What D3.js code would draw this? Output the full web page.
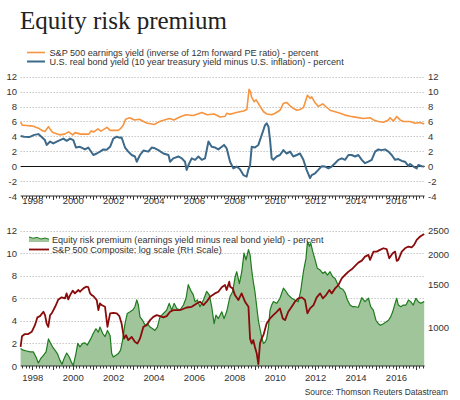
<!DOCTYPE html>
<html>
<head>
<meta charset="utf-8">
<script src="https://cdn.jsdelivr.net/npm/d3@7"></script>
<style>
  html, body { margin: 0; padding: 0; background: #fff; }
  svg { display: block; }
  text { font-family: "Liberation Sans", Arial, sans-serif; fill: #333; }
</style>
</head>
<body>
<svg id="chart" width="460" height="400"></svg>
<script>
// ---------------- DATA (fractional year, value) ----------------
const earningsYield = [
[1997.42,5.9],[1997.5,5.5],[1997.7,5.45],[1997.9,5.4],[1998.05,5.35],[1998.3,5.1],[1998.5,4.75],[1998.62,4.65],
[1998.8,5.3],[1998.9,4.9],[1999.0,4.55],[1999.2,4.35],[1999.35,4.2],[1999.6,4.3],[1999.8,4.6],[2000.0,4.2],
[2000.12,4.5],[2000.4,4.3],[2000.8,4.3],[2000.9,4.7],[2001.05,4.6],[2001.25,5.0],[2001.4,4.7],[2001.7,5.2],
[2001.85,4.8],[2002.0,4.8],[2002.25,4.8],[2002.35,5.0],[2002.5,5.5],[2002.62,6.3],[2002.82,6.5],[2003.05,6.2],
[2003.3,6.3],[2003.65,5.8],[2004.05,5.6],[2004.3,6.0],[2004.65,6.3],[2004.8,6.4],[2005.0,6.2],[2005.3,6.6],
[2005.6,6.9],[2005.97,6.8],[2006.4,7.2],[2006.65,6.9],[2007.0,7.0],[2007.3,6.6],[2007.55,6.7],[2007.62,7.1],
[2007.79,6.95],[2008.1,7.2],[2008.45,7.4],[2008.62,7.6],[2008.73,10.3],[2008.8,10.0],[2008.85,9.3],[2008.98,8.65],
[2009.08,8.9],[2009.28,8.0],[2009.45,7.3],[2009.6,7.0],[2009.85,6.9],[2010.02,7.1],[2010.26,7.5],[2010.42,8.4],
[2010.59,8.55],[2010.76,8.1],[2010.92,7.75],[2011.09,7.5],[2011.25,7.6],[2011.42,7.85],[2011.62,9.5],[2011.75,9.1],
[2011.83,9.3],[2012.0,8.5],[2012.16,8.0],[2012.38,8.35],[2012.57,7.9],[2012.74,7.5],[2012.99,7.3],[2013.24,7.1],
[2013.48,6.85],[2013.73,6.7],[2014.06,6.55],[2014.39,6.4],[2014.72,6.5],[2014.89,6.2],[2015.13,6.0],[2015.38,5.9],
[2015.63,6.2],[2015.71,6.5],[2015.88,6.05],[2016.04,6.65],[2016.21,6.2],[2016.37,6.0],[2016.7,6.0],[2016.95,5.75],
[2017.2,5.85],[2017.4,5.65]
];
const realBondYield = [
[1997.42,4.05],[1997.6,3.95],[1997.85,3.9],[1998.1,4.2],[1998.3,4.3],[1998.45,3.95],[1998.62,3.5],[1998.71,2.85],
[1998.88,3.3],[1999.04,3.05],[1999.21,3.3],[1999.37,3.5],[1999.54,3.7],[1999.7,3.4],[1999.87,3.7],[2000.03,3.5],
[2000.16,2.5],[2000.36,2.6],[2000.61,2.25],[2000.77,2.5],[2001.02,1.5],[2001.19,1.7],[2001.35,1.95],[2001.52,2.25],
[2001.68,2.2],[2001.85,2.6],[2002.01,3.7],[2002.18,3.95],[2002.34,3.8],[2002.42,3.85],[2002.59,2.5],[2002.75,1.95],
[2002.92,1.5],[2003.08,1.3],[2003.17,0.6],[2003.33,1.5],[2003.5,2.1],[2003.74,1.95],[2003.91,2.5],[2004.07,2.4],
[2004.24,2.15],[2004.49,1.7],[2004.74,1.5],[2004.82,0.6],[2004.98,1.05],[2005.23,1.3],[2005.4,1.05],[2005.56,0.6],
[2005.64,-0.5],[2005.73,0.15],[2005.89,1.05],[2006.06,0.85],[2006.22,1.3],[2006.39,0.85],[2006.55,1.05],[2006.72,3.3],
[2006.88,2.6],[2007.05,2.5],[2007.21,2.25],[2007.38,2.6],[2007.49,2.85],[2007.62,2.4],[2007.79,0.6],[2007.95,-0.3],
[2008.12,-0.05],[2008.28,-0.4],[2008.45,-1.2],[2008.61,-1.4],[2008.69,-0.5],[2008.78,0.15],[2008.86,2.6],[2009.02,2.5],
[2009.19,2.85],[2009.27,3.5],[2009.44,4.85],[2009.52,5.5],[2009.6,5.75],[2009.69,5.3],[2009.77,3.5],[2009.85,1.05],
[2009.93,0.85],[2010.1,1.3],[2010.26,1.5],[2010.43,2.15],[2010.59,1.7],[2010.76,1.95],[2010.92,1.3],[2011.09,1.5],
[2011.25,1.7],[2011.42,0.85],[2011.58,-0.5],[2011.75,-1.6],[2011.83,-1.2],[2012.0,-0.95],[2012.16,-0.5],[2012.33,0.0],
[2012.49,-0.05],[2012.66,-0.3],[2012.82,-0.05],[2012.99,0.4],[2013.15,0.85],[2013.32,1.05],[2013.48,0.85],[2013.65,1.5],
[2013.81,1.5],[2013.98,1.3],[2014.14,1.5],[2014.31,0.85],[2014.47,0.4],[2014.64,0.6],[2014.8,0.85],[2014.97,1.95],
[2015.13,2.25],[2015.3,2.15],[2015.46,2.25],[2015.63,1.95],[2015.79,1.5],[2015.96,0.85],[2016.12,0.95],[2016.29,0.7],
[2016.45,0.6],[2016.62,0.0],[2016.7,0.3],[2016.87,-0.05],[2017.03,-0.3],[2017.11,0.15],[2017.28,0.0],[2017.4,-0.05]
];
const equityRiskPremium = [
[1997.42,1.55],[1997.55,1.4],[1997.72,1.33],[1997.9,1.25],[1998.05,1.25],[1998.18,0.8],[1998.3,0.27],[1998.41,0.65],
[1998.55,0.95],[1998.68,1.25],[1998.8,2.4],[1998.88,2.1],[1999.0,1.7],[1999.12,1.4],[1999.24,1.1],[1999.37,0.5],
[1999.47,0.15],[1999.57,0.65],[1999.7,1.15],[1999.83,0.8],[1999.95,0.27],[2000.03,0.05],[2000.16,1.1],[2000.25,2.0],
[2000.36,1.7],[2000.49,2.0],[2000.61,2.05],[2000.72,1.85],[2000.89,2.4],[2001.02,2.9],[2001.15,3.3],[2001.27,3.0],
[2001.35,3.45],[2001.48,2.9],[2001.6,2.6],[2001.72,3.15],[2001.85,2.7],[2001.93,1.1],[2002.01,0.8],[2002.14,0.95],
[2002.26,1.1],[2002.37,1.4],[2002.47,2.3],[2002.59,3.75],[2002.7,4.65],[2002.84,4.8],[2002.97,4.95],[2003.08,5.25],
[2003.17,5.85],[2003.25,5.4],[2003.33,4.35],[2003.46,4.05],[2003.58,3.6],[2003.7,3.75],[2003.83,3.45],[2003.96,3.3],
[2004.07,3.15],[2004.19,3.45],[2004.32,4.35],[2004.49,4.65],[2004.65,4.95],[2004.78,5.55],[2004.9,4.95],[2005.02,5.55],
[2005.15,5.1],[2005.31,4.95],[2005.48,5.4],[2005.61,6.0],[2005.72,7.2],[2005.84,6.7],[2005.97,6.3],[2006.05,5.7],
[2006.17,5.85],[2006.3,5.25],[2006.47,5.85],[2006.63,6.6],[2006.76,6.3],[2006.88,5.25],[2007.0,3.75],[2007.09,4.5],
[2007.21,4.2],[2007.38,4.8],[2007.49,4.2],[2007.62,4.8],[2007.75,5.85],[2007.79,6.15],[2007.92,6.6],[2008.04,7.9],
[2008.12,8.35],[2008.25,7.3],[2008.37,8.35],[2008.48,10.0],[2008.58,9.4],[2008.7,10.3],[2008.78,9.85],[2008.86,8.5],
[2008.94,7.45],[2009.02,6.6],[2009.11,5.25],[2009.19,4.05],[2009.27,3.3],[2009.35,2.6],[2009.44,2.0],[2009.52,2.1],
[2009.6,2.4],[2009.69,3.45],[2009.77,4.95],[2009.85,5.4],[2009.93,5.7],[2010.1,5.55],[2010.26,6.0],[2010.43,6.9],
[2010.56,6.6],[2010.67,6.3],[2010.84,6.0],[2011.0,5.85],[2011.17,5.7],[2011.29,6.7],[2011.42,8.35],[2011.55,9.55],
[2011.62,11.0],[2011.72,10.6],[2011.78,10.9],[2011.88,10.15],[2012.0,9.4],[2012.11,8.65],[2012.25,8.5],[2012.38,8.2],
[2012.49,8.35],[2012.61,8.05],[2012.74,8.35],[2012.87,7.9],[2012.99,7.75],[2013.1,7.3],[2013.24,6.9],[2013.37,6.8],
[2013.48,6.5],[2013.6,5.85],[2013.73,5.4],[2013.86,5.25],[2013.98,5.25],[2014.14,5.2],[2014.31,6.05],[2014.47,5.7],
[2014.64,6.0],[2014.75,5.25],[2014.88,4.95],[2015.01,4.05],[2015.13,3.75],[2015.24,3.6],[2015.38,3.75],[2015.51,3.9],
[2015.63,4.05],[2015.74,4.35],[2015.84,4.8],[2015.96,5.55],[2016.04,6.0],[2016.12,5.4],[2016.24,5.25],[2016.37,5.4],
[2016.5,5.4],[2016.62,5.85],[2016.73,5.7],[2016.86,5.4],[2016.99,6.0],[2017.11,5.7],[2017.23,5.55],[2017.4,5.7]
];
const sp500 = [
[1997.42,832],[1997.49,921],[1997.63,940],[1997.8,940],[1997.97,960],[1998.13,1022],[1998.25,1100],[1998.38,1113],
[1998.55,1160],[1998.63,1124],[1998.71,1038],[1998.79,1006],[1998.88,1124],[1998.96,1142],[1999.13,1216],[1999.29,1304],
[1999.45,1329],[1999.62,1317],[1999.7,1380],[1999.78,1304],[1999.87,1358],[2000.0,1416],[2000.11,1380],[2000.28,1425],
[2000.36,1402],[2000.53,1447],[2000.66,1470],[2000.77,1463],[2000.86,1380],[2000.94,1358],[2001.02,1346],[2001.19,1296],
[2001.27,1178],[2001.35,1255],[2001.43,1236],[2001.6,1216],[2001.72,1006],[2001.85,1142],[2002.01,1149],[2002.18,1142],
[2002.31,1113],[2002.42,1038],[2002.54,900],[2002.64,930],[2002.75,887],[2002.92,915],[2003.08,873],[2003.2,859],
[2003.33,900],[2003.5,1006],[2003.66,1022],[2003.83,1072],[2003.99,1106],[2004.16,1124],[2004.32,1113],[2004.49,1100],
[2004.65,1113],[2004.82,1160],[2004.98,1178],[2005.23,1178],[2005.4,1185],[2005.64,1208],[2005.89,1216],[2006.14,1255],
[2006.3,1276],[2006.47,1236],[2006.63,1276],[2006.8,1338],[2007.04,1380],[2007.21,1402],[2007.38,1463],[2007.54,1493],
[2007.62,1425],[2007.75,1541],[2007.79,1470],[2007.92,1447],[2008.03,1358],[2008.2,1296],[2008.36,1380],[2008.53,1276],
[2008.7,1216],[2008.78,900],[2008.86,859],[2008.94,887],[2009.02,832],[2009.11,782],[2009.19,707],[2009.27,859],
[2009.35,900],[2009.44,930],[2009.6,1038],[2009.77,1089],[2009.93,1124],[2010.1,1160],[2010.26,1197],[2010.4,1089],
[2010.51,1072],[2010.67,1160],[2010.84,1216],[2011.0,1276],[2011.17,1317],[2011.34,1329],[2011.5,1296],[2011.62,1142],
[2011.75,1197],[2011.92,1236],[2012.08,1329],[2012.25,1380],[2012.38,1317],[2012.54,1358],[2012.71,1425],[2012.82,1380],
[2012.99,1447],[2013.15,1493],[2013.32,1591],[2013.48,1642],[2013.65,1695],[2013.81,1733],[2013.98,1790],[2014.14,1846],
[2014.31,1881],[2014.47,1954],[2014.64,1985],[2014.72,1893],[2014.89,2048],[2015.05,2048],[2015.21,2081],[2015.38,2114],
[2015.54,2097],[2015.67,1923],[2015.84,2016],[2015.96,2048],[2016.04,1875],[2016.12,1893],[2016.29,2048],[2016.45,2114],
[2016.62,2148],[2016.78,2133],[2016.9,2182],[2017.03,2288],[2017.2,2362],[2017.4,2420]
];
const yearLabels = [1998, 2000, 2002, 2004, 2006, 2008, 2010, 2012, 2014, 2016];
const topTicks = [-4, -2, 0, 2, 4, 6, 8, 10, 12];
const bottomTicks = [0, 2, 4, 6, 8, 10, 12];
const sp500Ticks = [1000, 1500, 2000, 2500];

// ---------------- CHART ----------------
const svg = d3.select("#chart");
const L = 20.6, R = 424.6;
const x = d3.scaleLinear().domain([1997.42, 2017.42]).range([L, R]);
const yTop = d3.scaleLinear().domain([-4, 12]).range([196, 76.7]);
const yBot = d3.scaleLinear().domain([0, 12]).range([366, 230.5]);
const ySpx = d3.scaleLog().domain([695, 2500]).range([366, 230.5]);

const orange = "#f7943f", blue = "#3d6a8b", greenFill = "#a0c59b", greenLine = "#1e7b1e", red = "#8a0b0b";

// Title
svg.append("text").attr("x", 20).attr("y", 28.5)
  .style("font-family", "'Liberation Serif', 'Times New Roman', serif")
  .style("font-size", "25px").style("fill", "#222")
  .text("Equity risk premium");

function grid(yScale, ticks, skip) {
  const g = svg.append("g");
  ticks.filter(t => !skip.includes(t)).forEach(t => {
    g.append("line").attr("x1", L).attr("x2", R + 0.5)
      .attr("y1", Math.round(yScale(t)) + 0.5).attr("y2", Math.round(yScale(t)) + 0.5)
      .attr("stroke", "#aaa").attr("stroke-width", 1).attr("stroke-dasharray", "1,2");
  });
}

function yLabels(yScale, ticks, side, fmt) {
  const ax = side === "left" ? d3.axisLeft(yScale) : d3.axisRight(yScale);
  ax.tickValues(ticks).tickSize(0).tickPadding(0).tickFormat(fmt || (d => d));
  const g = svg.append("g")
    .attr("transform", `translate(${side === "left" ? 17 : 428},0)`)
    .call(ax);
  g.select(".domain").remove();
  g.selectAll("text").style("font-size", "9.5px").style("font-family", "'Liberation Sans', Arial, sans-serif").attr("fill", "#333");
}

function xAxis(yPos, labelY) {
  const g = svg.append("g").attr("transform", `translate(0,${yPos})`);
  g.append("line").attr("x1", L).attr("x2", R).attr("y1", 0.5).attr("y2", 0.5)
    .attr("stroke", "#333").attr("stroke-width", 1);
  const minor = d3.range(Math.ceil(1997.42 * 6), Math.floor(2017.42 * 6) + 1).map(k => k / 6);
  minor.forEach(t => {
    const isYear = Math.abs(t - Math.round(t)) < 1e-6;
    g.append("line").attr("x1", Math.round(x(t)) + 0.5).attr("x2", Math.round(x(t)) + 0.5)
      .attr("y1", 0.5).attr("y2", isYear ? 4.5 : 3)
      .attr("stroke", "#333").attr("stroke-width", 1);
  });
  const ax = d3.axisBottom(x).tickValues(yearLabels).tickSize(0).tickPadding(0).tickFormat(d3.format("d"));
  const lg = svg.append("g").attr("transform", `translate(0,${labelY})`).call(ax);
  lg.select(".domain").remove();
  lg.selectAll("text").style("font-size", "9.5px").style("font-family", "'Liberation Sans', Arial, sans-serif").attr("fill", "#333").attr("dy", "0.71em");
}

// ---- Top panel ----
grid(yTop, topTicks, [-4, 0]);
svg.append("line").attr("x1", L).attr("x2", R).attr("y1", Math.round(yTop(0)) + 0.5).attr("y2", Math.round(yTop(0)) + 0.5)
  .attr("stroke", "#111").attr("stroke-width", 1);
yLabels(yTop, topTicks, "left");
yLabels(yTop, topTicks, "right");
xAxis(Math.round(yTop(-4)) - 0.5, 197);

const lineGen = d3.line().x(d => x(d[0])).y(d => yTop(d[1]));
svg.append("path").datum(earningsYield).attr("d", lineGen)
  .attr("fill", "none").attr("stroke", orange).attr("stroke-width", 1.6).attr("stroke-linejoin", "round");
svg.append("path").datum(realBondYield).attr("d", lineGen)
  .attr("fill", "none").attr("stroke", blue).attr("stroke-width", 2).attr("stroke-linejoin", "round");

// top legend
svg.append("line").attr("x1", 27).attr("x2", 45).attr("y1", 52.5).attr("y2", 52.5).attr("stroke", orange).attr("stroke-width", 1.6);
svg.append("line").attr("x1", 27).attr("x2", 45).attr("y1", 61.5).attr("y2", 61.5).attr("stroke", blue).attr("stroke-width", 2);
svg.append("text").attr("x", 49.5).attr("y", 55.7).style("font-size", "9.1px")
  .text("S&P 500 earnings yield (inverse of 12m forward PE ratio) - percent");
svg.append("text").attr("x", 49.5).attr("y", 64.7).style("font-size", "9.1px")
  .text("U.S. real bond yield (10 year treasury yield minus U.S. inflation) - percent");

// ---- Bottom panel ----
grid(yBot, bottomTicks, [0]);
const areaGen = d3.area().x(d => x(d[0])).y0(yBot(0)).y1(d => yBot(d[1]));
svg.append("path").datum(equityRiskPremium).attr("d", areaGen).attr("fill", greenFill);
svg.append("path").datum(equityRiskPremium).attr("d", d3.line().x(d => x(d[0])).y(d => yBot(d[1])))
  .attr("fill", "none").attr("stroke", greenLine).attr("stroke-width", 1.2).attr("stroke-linejoin", "round");
svg.append("path").datum(sp500).attr("d", d3.line().x(d => x(d[0])).y(d => ySpx(d[1])))
  .attr("fill", "none").attr("stroke", red).attr("stroke-width", 1.8).attr("stroke-linejoin", "round");
yLabels(yBot, bottomTicks, "left");
yLabels(ySpx, sp500Ticks, "right", d3.format("d"));
xAxis(Math.round(yBot(0)) - 0.5, 374);

// bottom legend
svg.append("path").attr("d", "M29,242 L29,237 L33,238.2 L37,237.4 L41,239 L45,238 L49,239.2 L49,242 Z").attr("fill", greenFill);
svg.append("path").attr("d", "M29,237 L33,238.2 L37,237.4 L41,239 L45,238 L49,239.2").attr("fill", "none").attr("stroke", greenLine).attr("stroke-width", 1);
svg.append("line").attr("x1", 29).attr("x2", 49).attr("y1", 249.5).attr("y2", 249.5).attr("stroke", red).attr("stroke-width", 1.8);
svg.append("text").attr("x", 52).attr("y", 243.3).style("font-size", "9.1px")
  .text("Equity risk premium (earnings yield minus real bond yield) - percent");
svg.append("text").attr("x", 52).attr("y", 252.8).style("font-size", "9.1px")
  .text("S&P 500 Composite: log scale (RH Scale)");

// source
svg.append("text").attr("x", 448).attr("y", 395).attr("text-anchor", "end").style("font-size", "8.4px")
  .text("Source: Thomson Reuters Datastream");
</script>
</body>
</html>
